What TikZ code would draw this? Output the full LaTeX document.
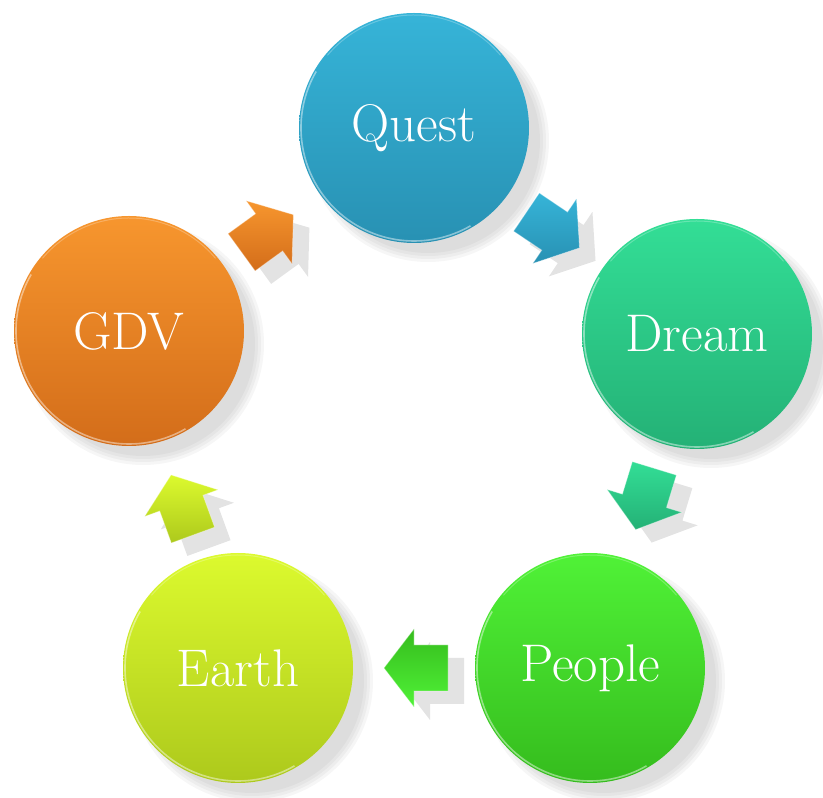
\documentclass[tikz,border=0pt]{standalone}
\usepackage{fontspec}
\definecolor{qT}{HTML}{36B4D8}
\definecolor{qB}{HTML}{2891B3}
\definecolor{dT}{HTML}{33DE96}
\definecolor{dB}{HTML}{24B176}
\definecolor{pT}{HTML}{50F237}
\definecolor{pB}{HTML}{35BC1D}
\definecolor{eT}{HTML}{DCFA2E}
\definecolor{eB}{HTML}{ADC91C}
\definecolor{gT}{HTML}{F7962E}
\definecolor{gB}{HTML}{D36D1A}
\tikzset{
  bubble/.style={circle, minimum size=230pt, inner sep=0pt, text=white,
    font=\fontsize{53}{53}\selectfont},
  shadowlayer/.style={fill=black, opacity=0.035},
  arrowshadow/.style={fill=black, opacity=0.11},
  rim/.style={white, opacity=0.45, line width=1.6pt},
  arrowrim/.style={white, opacity=0.35, line width=0.8pt},
}
\newcommand\blockarrow[5]{%
  \fill[arrowshadow, shift={(#1+16,#2-13)}, rotate=#3]
    (-32,-23)--(2,-23)--(2,-39)--(32,0)--(2,39)--(2,23)--(-32,23)--cycle;
  \shade[shift={(#1,#2)}, rotate=#3, top color=#4, bottom color=#5]
    (-32,-23)--(2,-23)--(2,-39)--(32,0)--(2,39)--(2,23)--(-32,23)--cycle;
  \draw[arrowrim, shift={(#1,#2)}, rotate=#3]
    (-32,-23)--(2,-23)--(2,-39)--(32,0)--(2,39)--(2,23)--(-32,23)--cycle;
}
\begin{document}
\begin{tikzpicture}[x=1pt,y=1pt]
\useasboundingbox (0,0) rectangle (823,798);
% circle shadows
\foreach \cx/\cy in {414/670, 697/464, 590/130, 238/130, 129/467} {
  \foreach \r in {121,118,115,112}
    \fill[shadowlayer] (\cx+14,\cy-13) circle (\r pt);
}
% arrows
\blockarrow{267.5}{564.5}{36}{gT}{gB}
\blockarrow{553}{568}{-34}{qT}{qB}
\blockarrow{645}{299}{-107}{dT}{dB}
\blockarrow{416}{130}{180}{pB}{pT}
\blockarrow{182}{293}{110}{eT}{eB}
% circles
\node[bubble, top color=qT, bottom color=qB] (quest) at (414,670) {Quest};
\node[bubble, top color=dT, bottom color=dB] (dream) at (697,464) {Dream};
\node[bubble, top color=pT, bottom color=pB] (people) at (590,130) {People};
\node[bubble, top color=eT, bottom color=eB] (earth) at (238,130) {Earth};
\node[bubble, top color=gT, bottom color=gB] (gdv) at (129,467) {GDV};
% glossy rims
\foreach \n in {quest,dream,people,earth,gdv} {
  \draw[rim] (\n.center) ++(150:113pt) arc[start angle=150, end angle=300, radius=113pt];
  \draw[white, opacity=0.25, line width=1pt] (\n.center) ++(40:113pt) arc[start angle=40, end angle=140, radius=113pt];
}
\end{tikzpicture}
\end{document}
